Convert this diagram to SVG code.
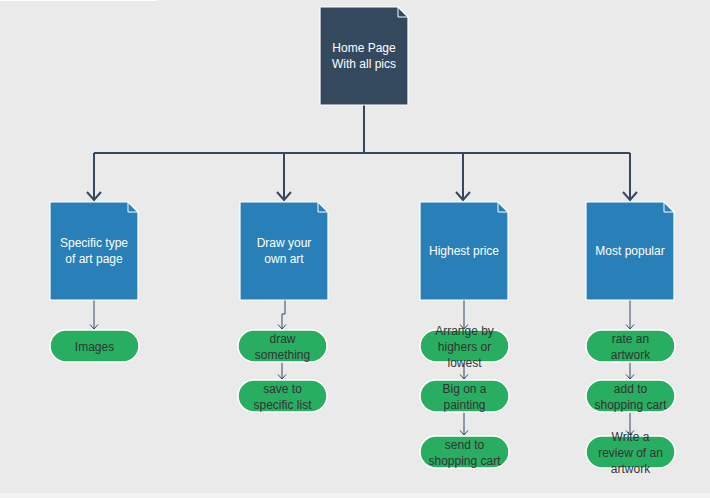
<svg xmlns="http://www.w3.org/2000/svg" width="710" height="498" viewBox="0 0 710 498">
<defs>
<marker id="big" viewBox="0 0 10 16" refX="9" refY="8" markerWidth="10" markerHeight="16" markerUnits="userSpaceOnUse" orient="auto" overflow="visible">
<path d="M1,1 L9,8 L1,15" fill="none" stroke="#34495e" stroke-width="2"/>
</marker>
<marker id="small" viewBox="0 0 6 10" refX="5.5" refY="5" markerWidth="6" markerHeight="10" markerUnits="userSpaceOnUse" orient="auto" overflow="visible">
<path d="M1,1 L5.5,5 L1,9" fill="none" stroke="#34495e" stroke-width="1"/>
</marker>
</defs>
<style>
.doc{stroke:#ffffff;stroke-width:1.2}
.dark{fill:#34495e}
.blue{fill:#2980b9}
.fold{fill:none;stroke:#ffffff;stroke-width:1}
.pill{fill:#27ae60;stroke:#ffffff;stroke-width:1.5}
.wt{font-family:"Liberation Sans",Arial,sans-serif;font-size:12px;fill:#ffffff;text-anchor:middle}
.bt{font-family:"Liberation Sans",Arial,sans-serif;font-size:12px;fill:#333333;text-anchor:middle}
.main{fill:none;stroke:#34495e;stroke-width:2}
.thin{fill:none;stroke:#34495e;stroke-width:1}
</style>
<rect x="0" y="0" width="710" height="498" fill="#eaeaea"/>
<rect x="0" y="0" width="157" height="1" fill="#ffffff"/>
<rect x="0" y="493" width="710" height="5" fill="#f2f2f2"/>

<g id="connectors">
<path class="main" d="M364,105 V153"/>
<path class="main" d="M94,153 H630"/>
<path class="main" d="M94,153 V200" marker-end="url(#big)"/>
<path class="main" d="M284,153 V200" marker-end="url(#big)"/>
<path class="main" d="M463,153 V200" marker-end="url(#big)"/>
<path class="main" d="M630,153 V200" marker-end="url(#big)"/>
<path class="thin" d="M94,300 V329" marker-end="url(#small)"/>
<path class="thin" d="M285,300 V314 H282 V329" marker-end="url(#small)"/>
<path class="thin" d="M282,362 V379" marker-end="url(#small)"/>
<path class="thin" d="M464,300 V329" marker-end="url(#small)"/>
<path class="thin" d="M464,362 V379" marker-end="url(#small)"/>
<path class="thin" d="M464,412 V435" marker-end="url(#small)"/>
<path class="thin" d="M630,300 V329" marker-end="url(#small)"/>
<path class="thin" d="M630,362 V379" marker-end="url(#small)"/>
<path class="thin" d="M630,412 V435" marker-end="url(#small)"/>
</g>

<g id="home">
<path class="doc dark" d="M320,7 H398 L408,17 V105 H320 Z"/>
<path class="fold" d="M398,7 V17 H408"/>
<text class="wt" x="364" y="52">Home Page</text>
<text class="wt" x="364" y="68">With all pics</text>
</g>

<g id="specific">
<path class="doc blue" d="M50,202 H128 L138,212 V300 H50 Z"/>
<path class="fold" d="M128,202 V212 H138"/>
<text class="wt" x="94" y="247">Specific type</text>
<text class="wt" x="94" y="263">of art page</text>
</g>

<g id="draw">
<path class="doc blue" d="M240,202 H318 L328,212 V300 H240 Z"/>
<path class="fold" d="M318,202 V212 H328"/>
<text class="wt" x="284" y="247">Draw your</text>
<text class="wt" x="284" y="263">own art</text>
</g>

<g id="highest">
<path class="doc blue" d="M420,202 H498 L508,212 V300 H420 Z"/>
<path class="fold" d="M498,202 V212 H508"/>
<text class="wt" x="464" y="255">Highest price</text>
</g>

<g id="popular">
<path class="doc blue" d="M586,202 H664 L674,212 V300 H586 Z"/>
<path class="fold" d="M664,202 V212 H674"/>
<text class="wt" x="630" y="255">Most popular</text>
</g>

<g id="images">
<rect class="pill" x="50" y="330" width="89" height="32" rx="16"/>
<text class="bt" x="94.5" y="351">Images</text>
</g>

<g id="drawsomething">
<rect class="pill" x="238" y="330" width="89" height="32" rx="16"/>
<text class="bt" x="282.5" y="343">draw</text>
<text class="bt" x="282.5" y="359">something</text>
</g>

<g id="savelist">
<rect class="pill" x="238" y="380" width="89" height="32" rx="16"/>
<text class="bt" x="282.5" y="393">save to</text>
<text class="bt" x="282.5" y="409">specific list</text>
</g>

<g id="arrange">
<rect class="pill" x="420" y="330" width="89" height="32" rx="16"/>
<text class="bt" x="464.5" y="335">Arrange by</text>
<text class="bt" x="464.5" y="351">highers or</text>
<text class="bt" x="464.5" y="367">lowest</text>
</g>

<g id="bid">
<rect class="pill" x="420" y="380" width="89" height="32" rx="16"/>
<text class="bt" x="464.5" y="393">Big on a</text>
<text class="bt" x="464.5" y="409">painting</text>
</g>

<g id="sendcart">
<rect class="pill" x="420" y="436" width="89" height="32" rx="16"/>
<text class="bt" x="464.5" y="449">send to</text>
<text class="bt" x="464.5" y="465">shopping cart</text>
</g>

<g id="rate">
<rect class="pill" x="586" y="330" width="89" height="32" rx="16"/>
<text class="bt" x="630.5" y="343">rate an</text>
<text class="bt" x="630.5" y="359">artwork</text>
</g>

<g id="addcart">
<rect class="pill" x="586" y="380" width="89" height="32" rx="16"/>
<text class="bt" x="630.5" y="393">add to</text>
<text class="bt" x="630.5" y="409">shopping cart</text>
</g>

<g id="review">
<rect class="pill" x="586" y="436" width="89" height="32" rx="16"/>
<text class="bt" x="630.5" y="441">Write a</text>
<text class="bt" x="630.5" y="457">review of an</text>
<text class="bt" x="630.5" y="473">artwork</text>
</g>
</svg>
